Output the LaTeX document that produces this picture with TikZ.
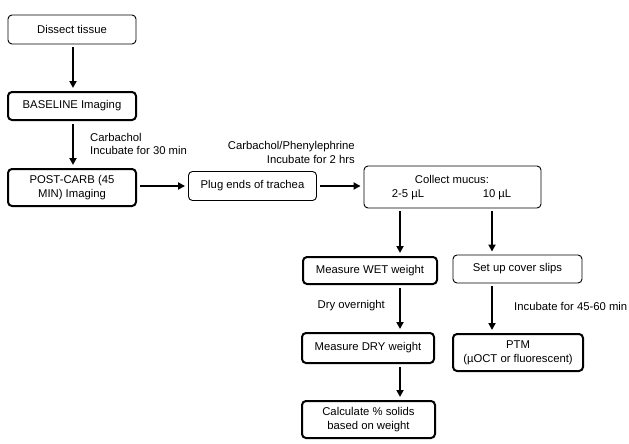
\documentclass[tikz,border=0pt]{standalone}
\usepackage{fontspec}
\setmainfont{Liberation Sans}
\usetikzlibrary{arrows.meta}
\begin{document}
\begin{tikzpicture}[x=1pt,y=-1pt,
  font=\fontsize{11.3}{13.8}\selectfont,
  box/.style={draw,rounded corners=4pt,line width=0.9pt,align=center,inner sep=0pt},
  tbox/.style={box,line width=2pt},
  arr/.style={line width=2pt,-{Triangle[length=7pt,width=7pt]},shorten <=3pt,shorten >=3pt},
  lbl/.style={inner sep=0pt}]
\useasboundingbox (0,0) rectangle (629,444);
\node[box,minimum width=128pt,minimum height=29pt] (dissect) at (72,29.5) {Dissect tissue};
\node[tbox,minimum width=128pt,minimum height=28pt] (baseline) at (72,106) {BASELINE Imaging};
\node[tbox,minimum width=128pt,minimum height=37pt] (postcarb) at (72,187.5) {POST-CARB (45\\MIN) Imaging};
\node[box,minimum width=128pt,minimum height=29pt] (plug) at (252.5,186) {Plug ends of trachea};
\node[box,minimum width=177pt,minimum height=42pt] (collect) at (452.5,187) {};
\node[lbl] (cm) at (452,179) {Collect mucus:};
\node[lbl] (v1) at (408,195) {2-5 µL};
\node[lbl] (v2) at (497,195) {10 µL};
\node[tbox,minimum width=134pt,minimum height=27pt] (wet) at (370,270.5) {Measure WET weight};
\node[box,minimum width=129pt,minimum height=28pt] (cover) at (517.5,269) {Set up cover slips};
\node[tbox,minimum width=132pt,minimum height=30pt] (dry) at (368,348) {Measure DRY weight};
\node[tbox,minimum width=130pt,minimum height=37pt] (ptm) at (518,352.5) {PTM\\(µOCT or fluorescent)};
\node[tbox,minimum width=133pt,minimum height=37pt] (calc) at (368.5,419.5) {Calculate \% solids\\based on weight};
\node[lbl,align=left,anchor=west] (carb) at (90,144) {Carbachol\\Incubate for 30 min};
\node[lbl,align=right,anchor=east] (carbphen) at (355,152.5) {Carbachol/Phenylephrine\\Incubate for 2 hrs};
\node[lbl,anchor=east] (dryo) at (385,306) {Dry overnight};
\node[lbl,anchor=west] (inc) at (514,306) {Incubate for 45-60 min};
\coordinate (cl) at (400,0);
\coordinate (cr) at (492,0);
\coordinate (cc) at (73,0);
\draw[arr] (dissect.south -| cc) -- (baseline.north -| cc);
\draw[arr] (baseline.south -| cc) -- (postcarb.north -| cc);
\draw[arr] (postcarb.east |- plug) -- (plug.west);
\draw[arr] (plug.east) -- (collect.west |- plug);
\draw[arr] (collect.south -| cl) -- (wet.north -| cl);
\draw[arr] (collect.south -| cr) -- (cover.north -| cr);
\draw[arr] (wet.south -| cl) -- (dry.north -| cl);
\draw[arr] (cover.south -| cr) -- (ptm.north -| cr);
\draw[arr] (dry.south -| cl) -- (calc.north -| cl);
\end{tikzpicture}
\end{document}
